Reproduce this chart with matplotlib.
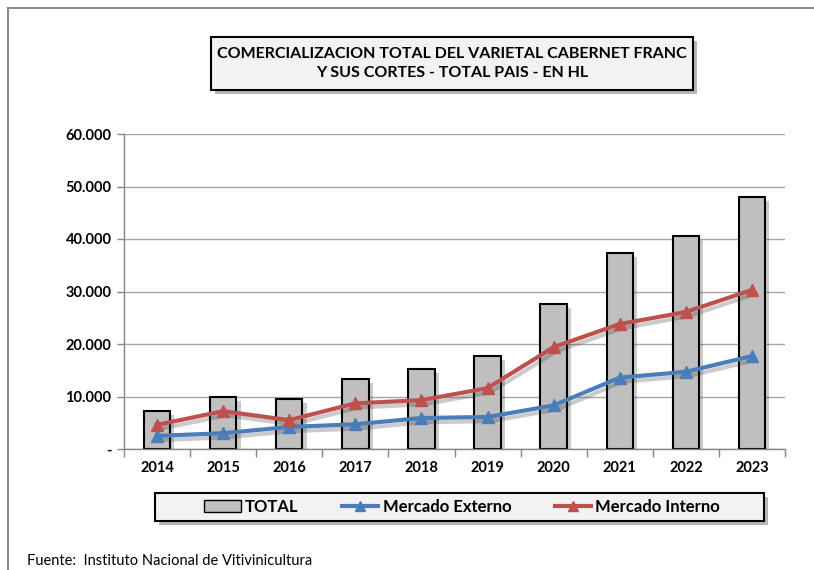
import matplotlib
matplotlib.use('Agg')
import matplotlib.pyplot as plt
import matplotlib.patheffects as pe
from matplotlib.patches import Rectangle, FancyBboxPatch
from matplotlib.lines import Line2D
import numpy as np

years = ['2014', '2015', '2016', '2017', '2018', '2019', '2020', '2021', '2022', '2023']
total = [7200, 10000, 9500, 13300, 15200, 17700, 27600, 37300, 40600, 48000]
externo = [2500, 3000, 4200, 4700, 5900, 6100, 8300, 13600, 14700, 17700]
interno = [4600, 7200, 5500, 8700, 9300, 11600, 19400, 23800, 26100, 30300]
yticks = [0, 10000, 20000, 30000, 40000, 50000, 60000]
ytick_labels = ['-', '10.000', '20.000', '30.000', '40.000', '50.000', '60.000']

plt.rcParams['font.family'] = ['Lato', 'DejaVu Sans']

fig = plt.figure(figsize=(8.14, 5.7), dpi=100)
W, H = 814, 570

# outer frame
fig.patches.append(Rectangle((8 / W, -0.1), 1.5, 1 - 8 / H + 0.1, transform=fig.transFigure,
                             fill=False, edgecolor='#8c8c8c', linewidth=1.5))

ax = fig.add_axes([124 / W, 1 - 449 / H, 661 / W, 315 / H])
x = np.arange(len(years))
shadow = [pe.SimplePatchShadow(offset=(3, -3), shadow_rgbFace='#333333', alpha=0.25), pe.Normal()]
ax.bar(x, total, width=0.4, color='#bfbfbf', edgecolor='black', linewidth=1.5,
       zorder=2, path_effects=shadow)

# lines (with soft shadow) then markers on top
lshadow = [pe.SimpleLineShadow(offset=(2, -3), shadow_color='#333333', alpha=0.25), pe.Normal()]
for vals, col in [(externo, '#4a7ebb'), (interno, '#c0504d')]:
    ax.plot(x, vals, color=col, linewidth=3, zorder=3, path_effects=lshadow)
    ax.plot(x, vals, color=col, linestyle='none', marker='^', markersize=8, zorder=4)

ax.set_xlim(-0.5, len(years) - 0.5)
ax.set_ylim(0, 60000)
ax.set_yticks(yticks)
ax.set_yticklabels(ytick_labels, fontsize=10.5, fontweight='bold')
ax.set_xticks(x)
ax.set_xticklabels(years, fontsize=10.5, fontweight='bold')
ax.set_xticks(np.arange(-0.5, len(years)), minor=True)
ax.tick_params(axis='x', which='major', length=0, pad=9)
ax.tick_params(axis='x', which='minor', length=6, color='#868686', width=1)
ax.tick_params(axis='y', length=5, color='#868686', width=1, pad=4)
ax.grid(axis='y', color='#a6a6a6', linewidth=1)
ax.set_axisbelow(True)
for s in ['top', 'right']:
    ax.spines[s].set_visible(False)
ax.spines['left'].set_color('#868686')
ax.spines['bottom'].set_color('#868686')
ax.spines['left'].set_linewidth(1)
ax.spines['bottom'].set_linewidth(1)

# title box
tbox = FancyBboxPatch((211 / W, 1 - 90 / H), 482 / W, 53 / H, boxstyle='square,pad=0',
                      transform=fig.transFigure, facecolor='#f2f2f2', edgecolor='black',
                      linewidth=1.5, path_effects=[pe.SimplePatchShadow(offset=(3, -3), alpha=0.4),
                                                   pe.Normal()])
fig.patches.append(tbox)
fig.text(452 / W, 1 - 63.5 / H, 'COMERCIALIZACION TOTAL DEL VARIETAL CABERNET FRANC\nY SUS CORTES - TOTAL PAIS - EN HL',
         ha='center', va='center', fontsize=11.5, fontweight='bold', linespacing=1.45)

# legend box
lbox = FancyBboxPatch((155 / W, 1 - 521 / H), 609 / W, 28 / H, boxstyle='square,pad=0',
                      transform=fig.transFigure, facecolor='#f2f2f2', edgecolor='black',
                      linewidth=1.5, path_effects=[pe.SimplePatchShadow(offset=(3, -3), alpha=0.4),
                                                   pe.Normal()])
fig.patches.append(lbox)
handles = [Rectangle((0, 0), 1, 1, facecolor='#bfbfbf', edgecolor='black', linewidth=1),
           Line2D([], [], color='#4a7ebb', linewidth=3, marker='^', markersize=7),
           Line2D([], [], color='#c0504d', linewidth=3, marker='^', markersize=7)]
fig.legend(handles, ['TOTAL', 'Mercado Externo', 'Mercado Interno'], loc='center',
           bbox_to_anchor=(462 / W, 1 - 507 / H), ncol=3, frameon=False,
           prop={'weight': 'bold', 'size': 12}, handlelength=2.2, handletextpad=0.25,
           columnspacing=2.6)

fig.text(27 / W, 1 - 561 / H, 'Fuente:  Instituto Nacional de Vitivinicultura', fontsize=10.5,
         ha='left', va='center')

fig.savefig('out.png', dpi=100)
